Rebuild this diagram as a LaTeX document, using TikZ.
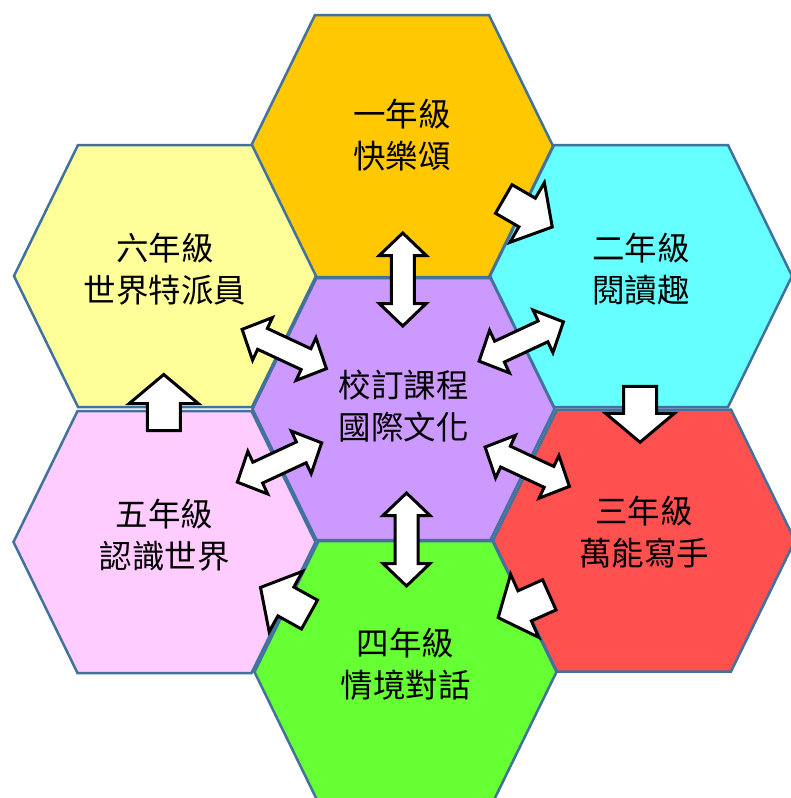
\documentclass[tikz,border=0pt]{standalone}
\usepackage{fontspec}
\setmainfont{Noto Sans CJK TC}
\usetikzlibrary{calc}

\definecolor{rim}{RGB}{65,113,156}
\definecolor{hexC}{RGB}{204,153,255}
\definecolor{hexOne}{RGB}{255,200,0}
\definecolor{hexTwo}{RGB}{102,255,255}
\definecolor{hexThree}{RGB}{255,80,80}
\definecolor{hexFour}{RGB}{102,255,51}
\definecolor{hexFive}{RGB}{255,204,255}
\definecolor{hexSix}{RGB}{255,255,153}

\tikzset{
  pics/hexa/.style={code={
    \draw[draw=rim, line width=2.5pt, fill=#1]
      (-151,0) -- (-87,131) -- (87,131) -- (151,0) -- (87,-131) -- (-87,-131) -- cycle;}},
  blockarrow/.style={draw=black, fill=white, line width=3pt},
  pics/onearrow/.style={code={
    \draw[blockarrow] (-28,-16.5) -- (-1,-16.5) -- (-1,-34.5) -- (28,0)
      -- (-1,34.5) -- (-1,16.5) -- (-28,16.5) -- cycle;}},
  pics/twoarrow/.style={code={
    \draw[blockarrow] (-46.5,0) -- (-24,23.5) -- (-24,11.5) -- (24,11.5) -- (24,23.5)
      -- (46.5,0) -- (24,-23.5) -- (24,-11.5) -- (-24,-11.5) -- (-24,-23.5) -- cycle;}},
  grade/.style={align=center, font=\fontsize{32.5}{42}\selectfont, text=black}
}

\begin{document}
\begin{tikzpicture}[x=1pt,y=1pt]
  \useasboundingbox (0,0) rectangle (791,-798);
  % hexagon centres
  \coordinate (c)  at (403.5,-409);
  \coordinate (g1) at (402,-146);
  \coordinate (g2) at (641,-276);
  \coordinate (g3) at (644,-540.5);
  \coordinate (g4) at (405.5,-672);
  \coordinate (g5) at (164.5,-542);
  \coordinate (g6) at (165,-276);

  \pic at (g1) {hexa=hexOne};
  \pic at (g2) {hexa=hexTwo};
  \pic at (g3) {hexa=hexThree};
  \pic at (g4) {hexa=hexFour};
  \pic at (g5) {hexa=hexFive};
  \pic at (g6) {hexa=hexSix};
  \pic at (c)  {hexa=hexC};

  \node[grade] (tc) at ($(c)+(0,3)$)   {校訂課程\\國際文化};
  \node[grade] (t1) at ($(g1)+(0,11)$) {一年級\\快樂頌};
  \node[grade] (t2) at ($(g2)+(0,7)$)  {二年級\\閱讀趣};
  \node[grade] (t3) at ($(g3)+(0,8)$)  {三年級\\萬能寫手};
  \node[grade] (t4) at ($(g4)+(0,8)$)  {四年級\\情境對話};
  \node[grade] (t5) at ($(g5)+(0,7)$)  {五年級\\認識世界};
  \node[grade] (t6) at ($(g6)+(0,7)$)  {六年級\\世界特派員};

  % centre <-> each grade
  \pic[rotate=90]  at ($(c)!.5!(g1)+(0,-2)$)   {twoarrow};
  \pic[rotate=25]  at ($(c)!.5!(g2)+(-1,1)$)   {twoarrow};
  \pic[rotate=-25] at ($(c)!.5!(g3)+(3.5,8)$)  {twoarrow};
  \pic[rotate=90]  at ($(c)!.5!(g4)+(2,1)$)    {twoarrow};
  \pic[rotate=25]  at ($(c)!.5!(g5)+(-4.5,13)$) {twoarrow};
  \pic[rotate=-25] at ($(c)!.5!(g6)+(0,-6.5)$) {twoarrow};

  % grade to grade
  \pic[rotate=-30] at ($(g1)!.5!(g2)+(6.5,-2)$)  {onearrow};
  \pic[rotate=-90] at ($(g2)!.5!(g3)+(-2.5,-6)$) {onearrow};
  \pic[rotate=204] at ($(g3)!.5!(g4)+(-1,0)$)    {onearrow};
  \pic[rotate=151] at ($(g4)!.5!(g5)+(0,6)$)     {onearrow};
  \pic[rotate=90]  at ($(g5)!.5!(g6)+(-1,6.5)$)  {onearrow};
\end{tikzpicture}
\end{document}
